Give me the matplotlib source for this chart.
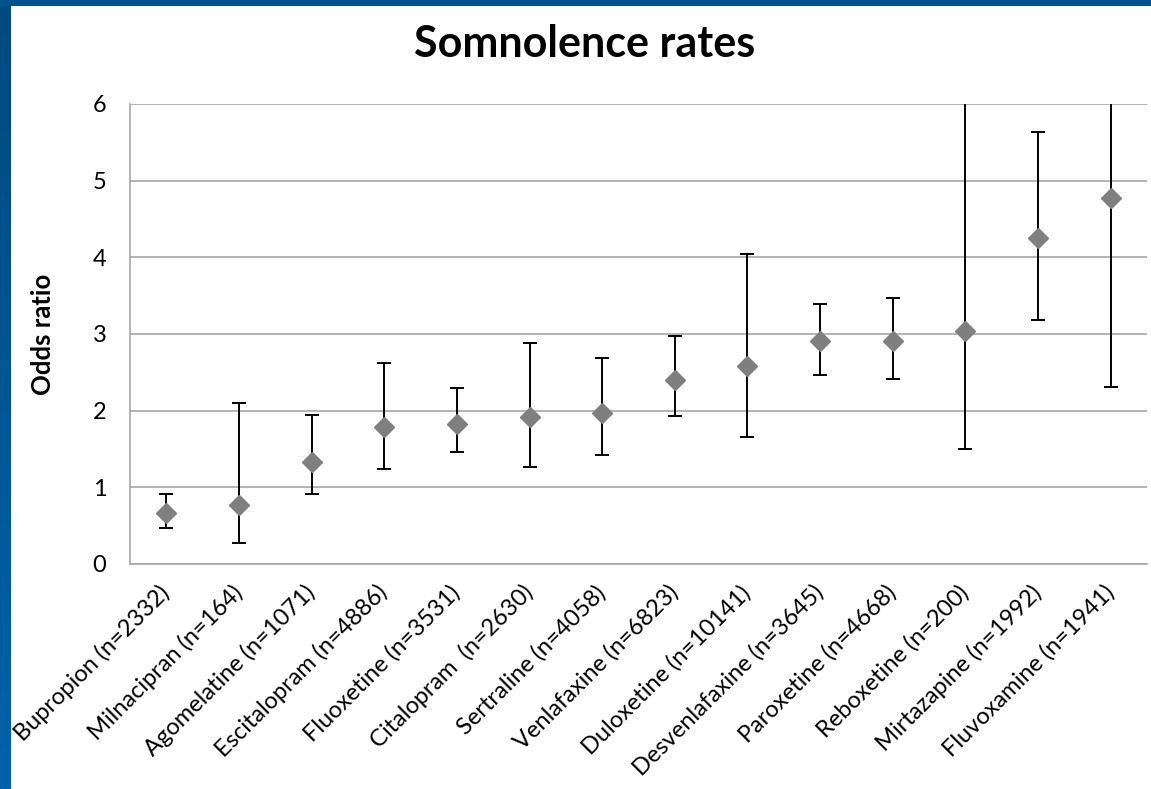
import numpy as np
import matplotlib
matplotlib.use('Agg')
import matplotlib.pyplot as plt

# Data (odds ratio with 95% CI)
drugs = ['Bupropion (n=2332)', 'Milnacipran (n=164)', 'Agomelatine (n=1071)',
         'Escitalopram (n=4886)', 'Fluoxetine (n=3531)', 'Citalopram  (n=2630)',
         'Sertraline (n=4058)', 'Venlafaxine (n=6823)', 'Duloxetine (n=10141)',
         'Desvenlafaxine (n=3645)', 'Paroxetine (n=4668)', 'Reboxetine (n=200)',
         'Mirtazapine (n=1992)', 'Fluvoxamine (n=1941)']
odds = [0.66, 0.77, 1.33, 1.79, 1.83, 1.92, 1.97, 2.40, 2.58, 2.91, 2.91, 3.04, 4.25, 4.77]
ci_low = [0.47, 0.28, 0.91, 1.24, 1.46, 1.27, 1.42, 1.93, 1.66, 2.47, 2.41, 1.50, 3.18, 2.31]
ci_high = [0.91, 2.10, 1.95, 2.62, 2.30, 2.88, 2.69, 2.97, 4.04, 3.39, 3.47, 6.5, 5.63, 6.5]

plt.rcParams['font.family'] = ['Lato', 'DejaVu Sans']

fig = plt.figure(figsize=(11.51, 7.89), dpi=100)
fig.patch.set_facecolor('white')

# slide border (blue strips on the left and top)
strip = fig.add_axes([0, 0, 11 / 1151, 1])
grad = np.linspace(0, 1, 256).reshape(-1, 1)
strip.imshow(grad, aspect='auto', cmap=matplotlib.colors.LinearSegmentedColormap.from_list(
    'b', ['#0062aa', '#004a80']), origin='lower')
strip.axis('off')
top = fig.add_axes([0, 1 - 6 / 789, 1, 6 / 789])
top.set_facecolor('#00508a')
top.set_xticks([])
top.set_yticks([])
for s in top.spines.values():
    s.set_visible(False)

ax = fig.add_axes([130 / 1151, (789 - 564) / 789, 1017 / 1151, 460 / 789])
x = np.arange(len(drugs))
odds_a = np.array(odds)
yerr = [odds_a - np.array(ci_low), np.array(ci_high) - odds_a]

ax.errorbar(x, odds_a, yerr=yerr, fmt='none', ecolor='black', elinewidth=1.4,
            capsize=5, capthick=1.4, zorder=3)
ax.plot(x, odds_a, 'D', color='#7f7f7f', markersize=10.5, zorder=4)

ax.set_xlim(-0.5, len(drugs) - 0.5)
ax.set_ylim(0, 6)
ax.set_yticks(range(0, 7))
ax.yaxis.grid(True, color='#a6a6a6', linewidth=1.2)
ax.set_axisbelow(True)
for side in ['top', 'right']:
    ax.spines[side].set_visible(False)
for side in ['left', 'bottom']:
    ax.spines[side].set_color('#a6a6a6')
    ax.spines[side].set_linewidth(1.2)

ax.set_xticks(x)
ax.set_xticklabels(drugs, rotation=45, ha='right', va='center', rotation_mode='anchor', fontsize=17)
ax.tick_params(axis='x', length=0, pad=18)
ax.tick_params(axis='y', length=0, pad=17, labelsize=17)

ax.set_ylabel('Odds ratio', fontsize=18.5, fontweight='bold')
ax.yaxis.set_label_coords(-0.074, 0.5)
fig.text(585 / 1151, 1 - 44 / 789, 'Somnolence rates', ha='center', va='center',
         fontsize=31, fontweight='bold')

plt.savefig('out.png', dpi=100)
